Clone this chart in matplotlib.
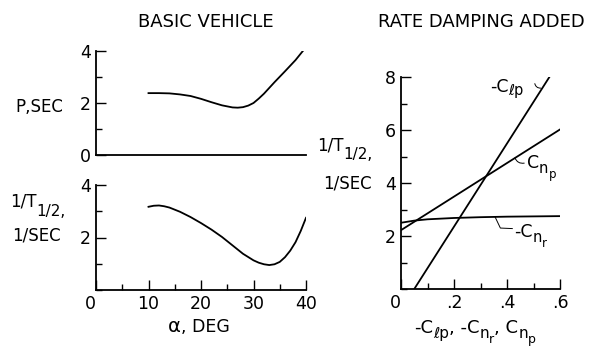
import matplotlib.pyplot as plt
from matplotlib.ticker import MultipleLocator
from matplotlib.transforms import IdentityTransform

plt.rcParams['font.family'] = ['DejaVu Sans']
plt.rcParams['mathtext.default'] = 'regular'

# basic vehicle, period vs angle of attack
alpha_p = [10, 12, 14, 16, 18, 20, 22, 24, 26, 27, 28, 29, 30, 31, 32, 34, 36, 38, 40]
period = [2.38, 2.38, 2.37, 2.33, 2.27, 2.16, 2.03, 1.91, 1.83, 1.82, 1.84, 1.90,
          2.00, 2.17, 2.36, 2.80, 3.22, 3.65, 4.15]

# basic vehicle, 1/T1/2 vs angle of attack
alpha_t = [10, 11, 12, 13, 14, 16, 18, 20, 22, 24, 26, 28, 30, 31, 32, 33, 34, 35,
           36, 37, 38, 39, 40]
inv_t = [3.17, 3.21, 3.22, 3.19, 3.14, 2.98, 2.78, 2.55, 2.30, 2.02, 1.70, 1.38,
         1.13, 1.04, 0.98, 0.95, 0.98, 1.07, 1.25, 1.50, 1.82, 2.25, 2.75]

# rate damping added
clp_x = [0.05, 0.56]
clp_y = [0.0, 8.0]
cnp_x = [0.0, 0.6]
cnp_y = [2.22, 6.02]
cnr_x = [0.0, 0.05, 0.1, 0.2, 0.3, 0.4, 0.5, 0.6]
cnr_y = [2.5, 2.58, 2.63, 2.68, 2.71, 2.73, 2.74, 2.75]

W, H = 590, 347
fig = plt.figure(figsize=(5.9, 3.47), dpi=100)
rend = fig.canvas.get_renderer()
px = IdentityTransform()


def box(x0, y0, x1, y1):
    # pixel box -> figure fraction
    return [x0 / W, 1 - y1 / H, (x1 - x0) / W, (y1 - y0) / H]


def chain(x, y, pieces, ha='left'):
    # text pieces (text, size, drop in px) side by side, baseline at image y
    texts = []
    cx = x
    for s, size, dy in pieces:
        t = fig.text(cx, H - y - dy, s, fontsize=size, transform=px,
                     ha='left', va='baseline')
        cx += t.get_window_extent(rend).width
        texts.append(t)
    if ha != 'left':
        shift = (cx - x) if ha == 'right' else (cx - x) / 2
        for t in texts:
            t.set_x(t.get_position()[0] - shift)


def style(ax):
    for s in ['top', 'right']:
        ax.spines[s].set_visible(False)
    for s in ['left', 'bottom']:
        ax.spines[s].set_linewidth(1.3)
    ax.tick_params(which='both', direction='in', labelsize=12.5, width=1.0)
    ax.tick_params(which='major', length=7)
    ax.tick_params(which='minor', length=4)


lw = 1.3
ax1 = fig.add_axes(box(96, 51, 306, 155))
ax1.plot(alpha_p, period, color='black', lw=lw)
ax1.set_xlim(0, 40)
ax1.set_ylim(0, 4)
style(ax1)
ax1.set_yticks([0, 2, 4])
ax1.yaxis.set_minor_locator(MultipleLocator(1))
ax1.set_xticks([])

ax2 = fig.add_axes(box(96, 185, 306, 290))
ax2.plot(alpha_t, inv_t, color='black', lw=lw)
ax2.set_xlim(0, 40)
ax2.set_ylim(0, 4)
style(ax2)
ax2.set_yticks([2, 4])
ax2.yaxis.set_minor_locator(MultipleLocator(1))
ax2.set_xticks([0, 10, 20, 30, 40])
ax2.xaxis.set_minor_locator(MultipleLocator(5))
ax2.get_xticklabels()[0].set_ha('right')

ax3 = fig.add_axes(box(401, 77, 560, 289))
ax3.plot(clp_x, clp_y, color='black', lw=lw)
ax3.plot(cnp_x, cnp_y, color='black', lw=lw)
ax3.plot(cnr_x, cnr_y, color='black', lw=lw)
ax3.set_xlim(0, 0.6)
ax3.set_ylim(0, 8)
style(ax3)
ax3.set_yticks([2, 4, 6, 8])
ax3.yaxis.set_minor_locator(MultipleLocator(1))
ax3.set_xticks([0, 0.2, 0.4, 0.6])
ax3.set_xticklabels(['0', '.2', '.4', '.6'])
ax3.xaxis.set_minor_locator(MultipleLocator(0.1))
ax3.get_xticklabels()[0].set_ha('right')

# leaders from line labels to the lines
ax3.annotate('', xy=(0.527, 7.58), xytext=(0.505, 7.75),
             arrowprops=dict(arrowstyle='-', lw=0.7, shrinkA=0, shrinkB=0,
                             connectionstyle='arc3,rad=0.4'))
ax3.annotate('', xy=(0.43, 4.95), xytext=(0.465, 4.75),
             arrowprops=dict(arrowstyle='-', lw=0.7, shrinkA=0, shrinkB=0,
                             connectionstyle='arc3,rad=-0.4'))
ax3.plot([0.355, 0.375, 0.42], [2.72, 2.3, 2.28], color='black', lw=0.7)

fs = 12
chain(206, 27, [('BASIC VEHICLE', 13, 0)], ha='center')
chain(481, 27, [('RATE DAMPING ADDED', 13, 0)], ha='center')
chain(15, 112, [('P,SEC', fs, 0)])
chain(10, 207, [('1/T', fs, 0), ('1/2,', 11, 9)])
chain(12, 240, [('1/SEC', fs, 0)])
chain(317, 150, [('1/T', fs, 0), ('1/2,', 11, 9)])
chain(372, 188, [('1/SEC', fs, 0)], ha='right')
chain(198, 332, [('$\\alpha$', 14, 0), (', DEG', 12.5, 0)], ha='center')
chain(475, 333, [('-C', 13, 0), ('\u2113p', 11, 5), (', -C', 13, 0), ('n', 11, 5),
                 ('r', 9, 10), (', C', 13, 0), ('n', 11, 5), ('p', 9, 10)], ha='center')

# line labels
chain(490, 92, [('-C', 12.5, 0), ('\u2113p', 10.5, 3)])
chain(527, 168, [('C', 12.5, 0), ('n', 10.5, 5), ('p', 8.5, 10)])
chain(514, 237, [('-C', 12.5, 0), ('n', 10.5, 5), ('r', 8.5, 10)])

fig.savefig('out.png', dpi=100)
